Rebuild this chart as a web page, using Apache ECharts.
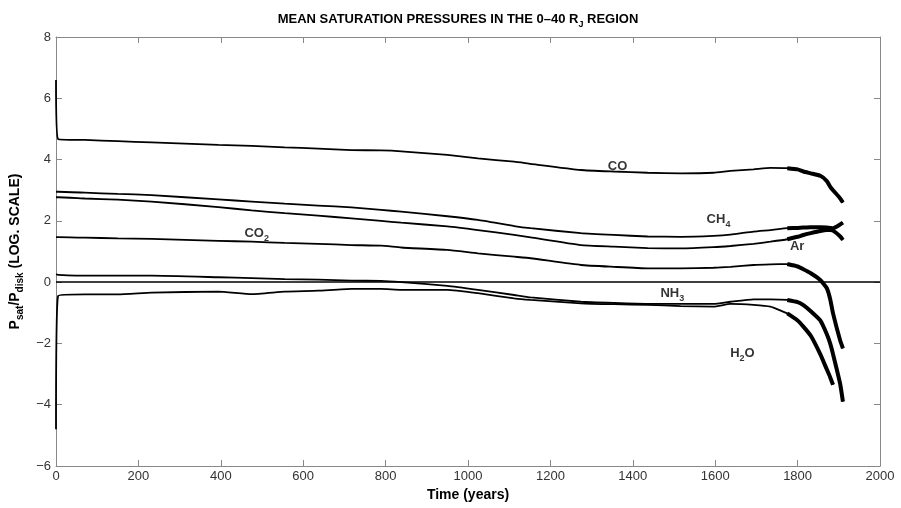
<!DOCTYPE html>
<html>
<head>
<meta charset="utf-8">
<script src="https://cdn.jsdelivr.net/npm/echarts@6/dist/echarts.min.js"></script>
<style>html,body{margin:0;padding:0;background:#fff;}#c{width:901px;height:508px;}</style>
</head>
<body>
<div id="c"></div>
<script>
// Time samples (years)
var years = [0, 5, 70, 150, 232, 394, 475, 555, 636, 717, 789, 838, 950, 1024, 1112, 1152, 1274, 1354, 1436, 1516, 1596, 1637, 1693, 1734, 1775, 1800, 1814, 1832, 1855, 1871, 1879, 1886, 1903, 1910];
// log10(Psat/Pdisk) for each species
var CO  = [6.6, 4.67, 4.64, 4.60, 4.56, 4.48, 4.45, 4.40, 4.36, 4.31, 4.30, 4.27, 4.15, 4.04, 3.93, 3.86, 3.66, 3.61, 3.57, 3.55, 3.57, 3.63, 3.68, 3.73, 3.72, 3.68, 3.61, 3.55, 3.47, 3.30, 3.12, 3.00, 2.74, 2.60];
var CH4 = [2.95, 2.95, 2.92, 2.88, 2.84, 2.70, 2.63, 2.56, 2.50, 2.44, 2.36, 2.30, 2.15, 2.03, 1.83, 1.76, 1.60, 1.54, 1.49, 1.48, 1.51, 1.55, 1.65, 1.70, 1.76, 1.77, 1.78, 1.79, 1.79, 1.78, 1.77, 1.76, 1.88, 1.94];
var Ar  = [2.77, 2.77, 2.73, 2.69, 2.63, 2.45, 2.34, 2.25, 2.17, 2.08, 2.00, 1.94, 1.82, 1.70, 1.54, 1.46, 1.21, 1.16, 1.11, 1.10, 1.14, 1.18, 1.25, 1.32, 1.40, 1.48, 1.54, 1.60, 1.67, 1.70, 1.70, 1.68, 1.50, 1.38];
var CO2 = [1.47, 1.47, 1.45, 1.43, 1.41, 1.35, 1.32, 1.28, 1.25, 1.21, 1.19, 1.13, 1.05, 0.94, 0.83, 0.78, 0.56, 0.50, 0.45, 0.45, 0.47, 0.50, 0.56, 0.58, 0.59, 0.51, 0.42, 0.29, 0.07, -0.20, -0.55, -1.02, -1.89, -2.16];
var NH3 = [0.25, 0.24, 0.21, 0.21, 0.21, 0.16, 0.13, 0.10, 0.08, 0.05, 0.04, 0.00, -0.12, -0.25, -0.42, -0.50, -0.64, -0.68, -0.71, -0.71, -0.71, -0.64, -0.56, -0.56, -0.58, -0.65, -0.75, -0.95, -1.25, -1.70, -2.00, -2.35, -3.30, -3.90];
var H2O = [-4.8, -0.45, -0.40, -0.40, -0.34, -0.31, -0.39, -0.31, -0.28, -0.22, -0.22, -0.25, -0.25, -0.36, -0.53, -0.58, -0.69, -0.72, -0.74, -0.78, -0.80, -0.71, -0.74, -0.80, -1.02, -1.25, -1.45, -1.75, -2.35, -2.85, -3.10, -3.35, null, null];

var seriesNames = ['CO', 'CH4', 'Ar', 'CO2', 'NH3', 'H2O'];
var seriesValues = [CO, CH4, Ar, CO2, NH3, H2O];
// Curve labels: [time, value, rich text]
var labelTimes = [1363, 1608, 1799, 487, 1496, 1666];
var labelValues = [3.79, 2.05, 1.18, 1.60, -0.36, -2.32];
var labelTexts = ['{b|CO}', '{b|CH}{s|4}', '{b|Ar}', '{b|CO}{s|2}', '{b|NH}{s|3}', '{b|H}{s|2}{b|O}'];

var xTicks = [0, 200, 400, 600, 800, 1000, 1200, 1400, 1600, 1800, 2000];
var yTicks = [-6, -4, -2, 0, 2, 4, 6, 8];

var NARROW = '"Liberation Sans Narrow", "Liberation Sans", Arial, sans-serif';
var SANS = '"Liberation Sans", Arial, sans-serif';

function pairs(vals, from) {
  var out = [];
  for (var i = 0; i < years.length; i++) {
    if (vals[i] === null) continue;
    if (from === undefined || years[i] >= from) out.push([years[i], vals[i]]);
  }
  return out;
}

var series = [];
seriesValues.forEach(function (vals, k) {
  var s = {
    name: seriesNames[k], type: 'line', data: pairs(vals), showSymbol: false,
    smooth: 0.15, lineStyle: { color: '#000', width: 1.8 }, silent: true, z: 3
  };
  if (k === 0) {
    s.markLine = {
      silent: true, symbol: ['none', 'none'], label: { show: false },
      lineStyle: { color: '#000', width: 1.5, type: 'solid' },
      data: [{ yAxis: 0 }]
    };
  }
  series.push(s);
  // noisy tail rendered as a thicker band
  series.push({
    type: 'line', data: pairs(vals, 1775), showSymbol: false, smooth: 0.15,
    lineStyle: { color: '#000', width: 4 }, silent: true, z: 3
  });
});
var labelData = labelTimes.map(function (t, i) { return { value: [t, labelValues[i]], txt: labelTexts[i] }; });
series.push({
  type: 'scatter', data: labelData, symbolSize: 0, silent: true, z: 5,
  label: {
    show: true, position: 'inside',
    formatter: function (p) { return p.data.txt; },
    rich: {
      b: { fontFamily: NARROW, fontWeight: 'bold', fontSize: 13, color: '#000', lineHeight: 20, verticalAlign: 'middle' },
      s: { fontFamily: NARROW, fontWeight: 'bold', fontSize: 9, color: '#000', lineHeight: 20, verticalAlign: 'bottom' }
    }
  }
});

function axisCommon() {
  return {
    axisLine: { show: true, onZero: false, lineStyle: { color: '#888', width: 1 } },
    axisTick: { show: true, inside: true, length: 6, lineStyle: { color: '#888' } },
    splitLine: { show: false }
  };
}

var option = {
  backgroundColor: '#fff',
  animation: false,
  title: {
    text: '{t|MEAN SATURATION PRESSURES IN THE 0–40 R}{s|J}{t| REGION}',
    left: 453, top: 4, textAlign: 'center',
    textStyle: {
      rich: {
        t: { fontFamily: NARROW, fontWeight: 'bold', fontSize: 13, color: '#000', lineHeight: 20, verticalAlign: 'middle' },
        s: { fontFamily: NARROW, fontWeight: 'bold', fontSize: 9, color: '#000', lineHeight: 20, verticalAlign: 'bottom' }
      }
    }
  },
  grid: { left: 54, right: 21, top: 37, bottom: 42 },
  xAxis: [
    Object.assign({
      type: 'value', min: xTicks[0], max: xTicks[xTicks.length - 1], interval: 200, position: 'bottom',
      name: 'Time (years)', nameLocation: 'middle', nameGap: 21,
      nameTextStyle: { fontFamily: NARROW, fontWeight: 'bold', fontSize: 14, color: '#000' },
      axisLabel: { fontFamily: NARROW, fontSize: 13, color: '#333', margin: 4, formatter: function (v) { return String(v); } }
    }, axisCommon()),
    Object.assign({
      type: 'value', min: xTicks[0], max: xTicks[xTicks.length - 1], interval: 200, position: 'top',
      axisLabel: { show: false }
    }, axisCommon())
  ],
  yAxis: [
    Object.assign({
      type: 'value', min: yTicks[0], max: yTicks[yTicks.length - 1], interval: 2, position: 'left',
      name: '{b|P}{s|sat}{b|/P}{s|disk}{b| (LOG. SCALE)}', nameLocation: 'middle', nameGap: 31, nameRotate: 90,
      nameTextStyle: {
        rich: {
          b: { fontFamily: SANS, fontWeight: 'bold', fontSize: 14, color: '#000', lineHeight: 20, verticalAlign: 'middle' },
          s: { fontFamily: SANS, fontWeight: 'bold', fontSize: 10, color: '#000', lineHeight: 20, verticalAlign: 'bottom' }
        }
      },
      axisLabel: { fontFamily: NARROW, fontSize: 13, color: '#333', margin: 5, formatter: function (v) { return v < 0 ? '−' + Math.abs(v) : String(v); } }
    }, axisCommon()),
    Object.assign({
      type: 'value', min: yTicks[0], max: yTicks[yTicks.length - 1], interval: 2, position: 'right',
      axisLabel: { show: false }
    }, axisCommon())
  ],
  series: series
};

var chart = echarts.init(document.getElementById('c'), null, { renderer: 'canvas' });
chart.setOption(option);
</script>
</body>
</html>
